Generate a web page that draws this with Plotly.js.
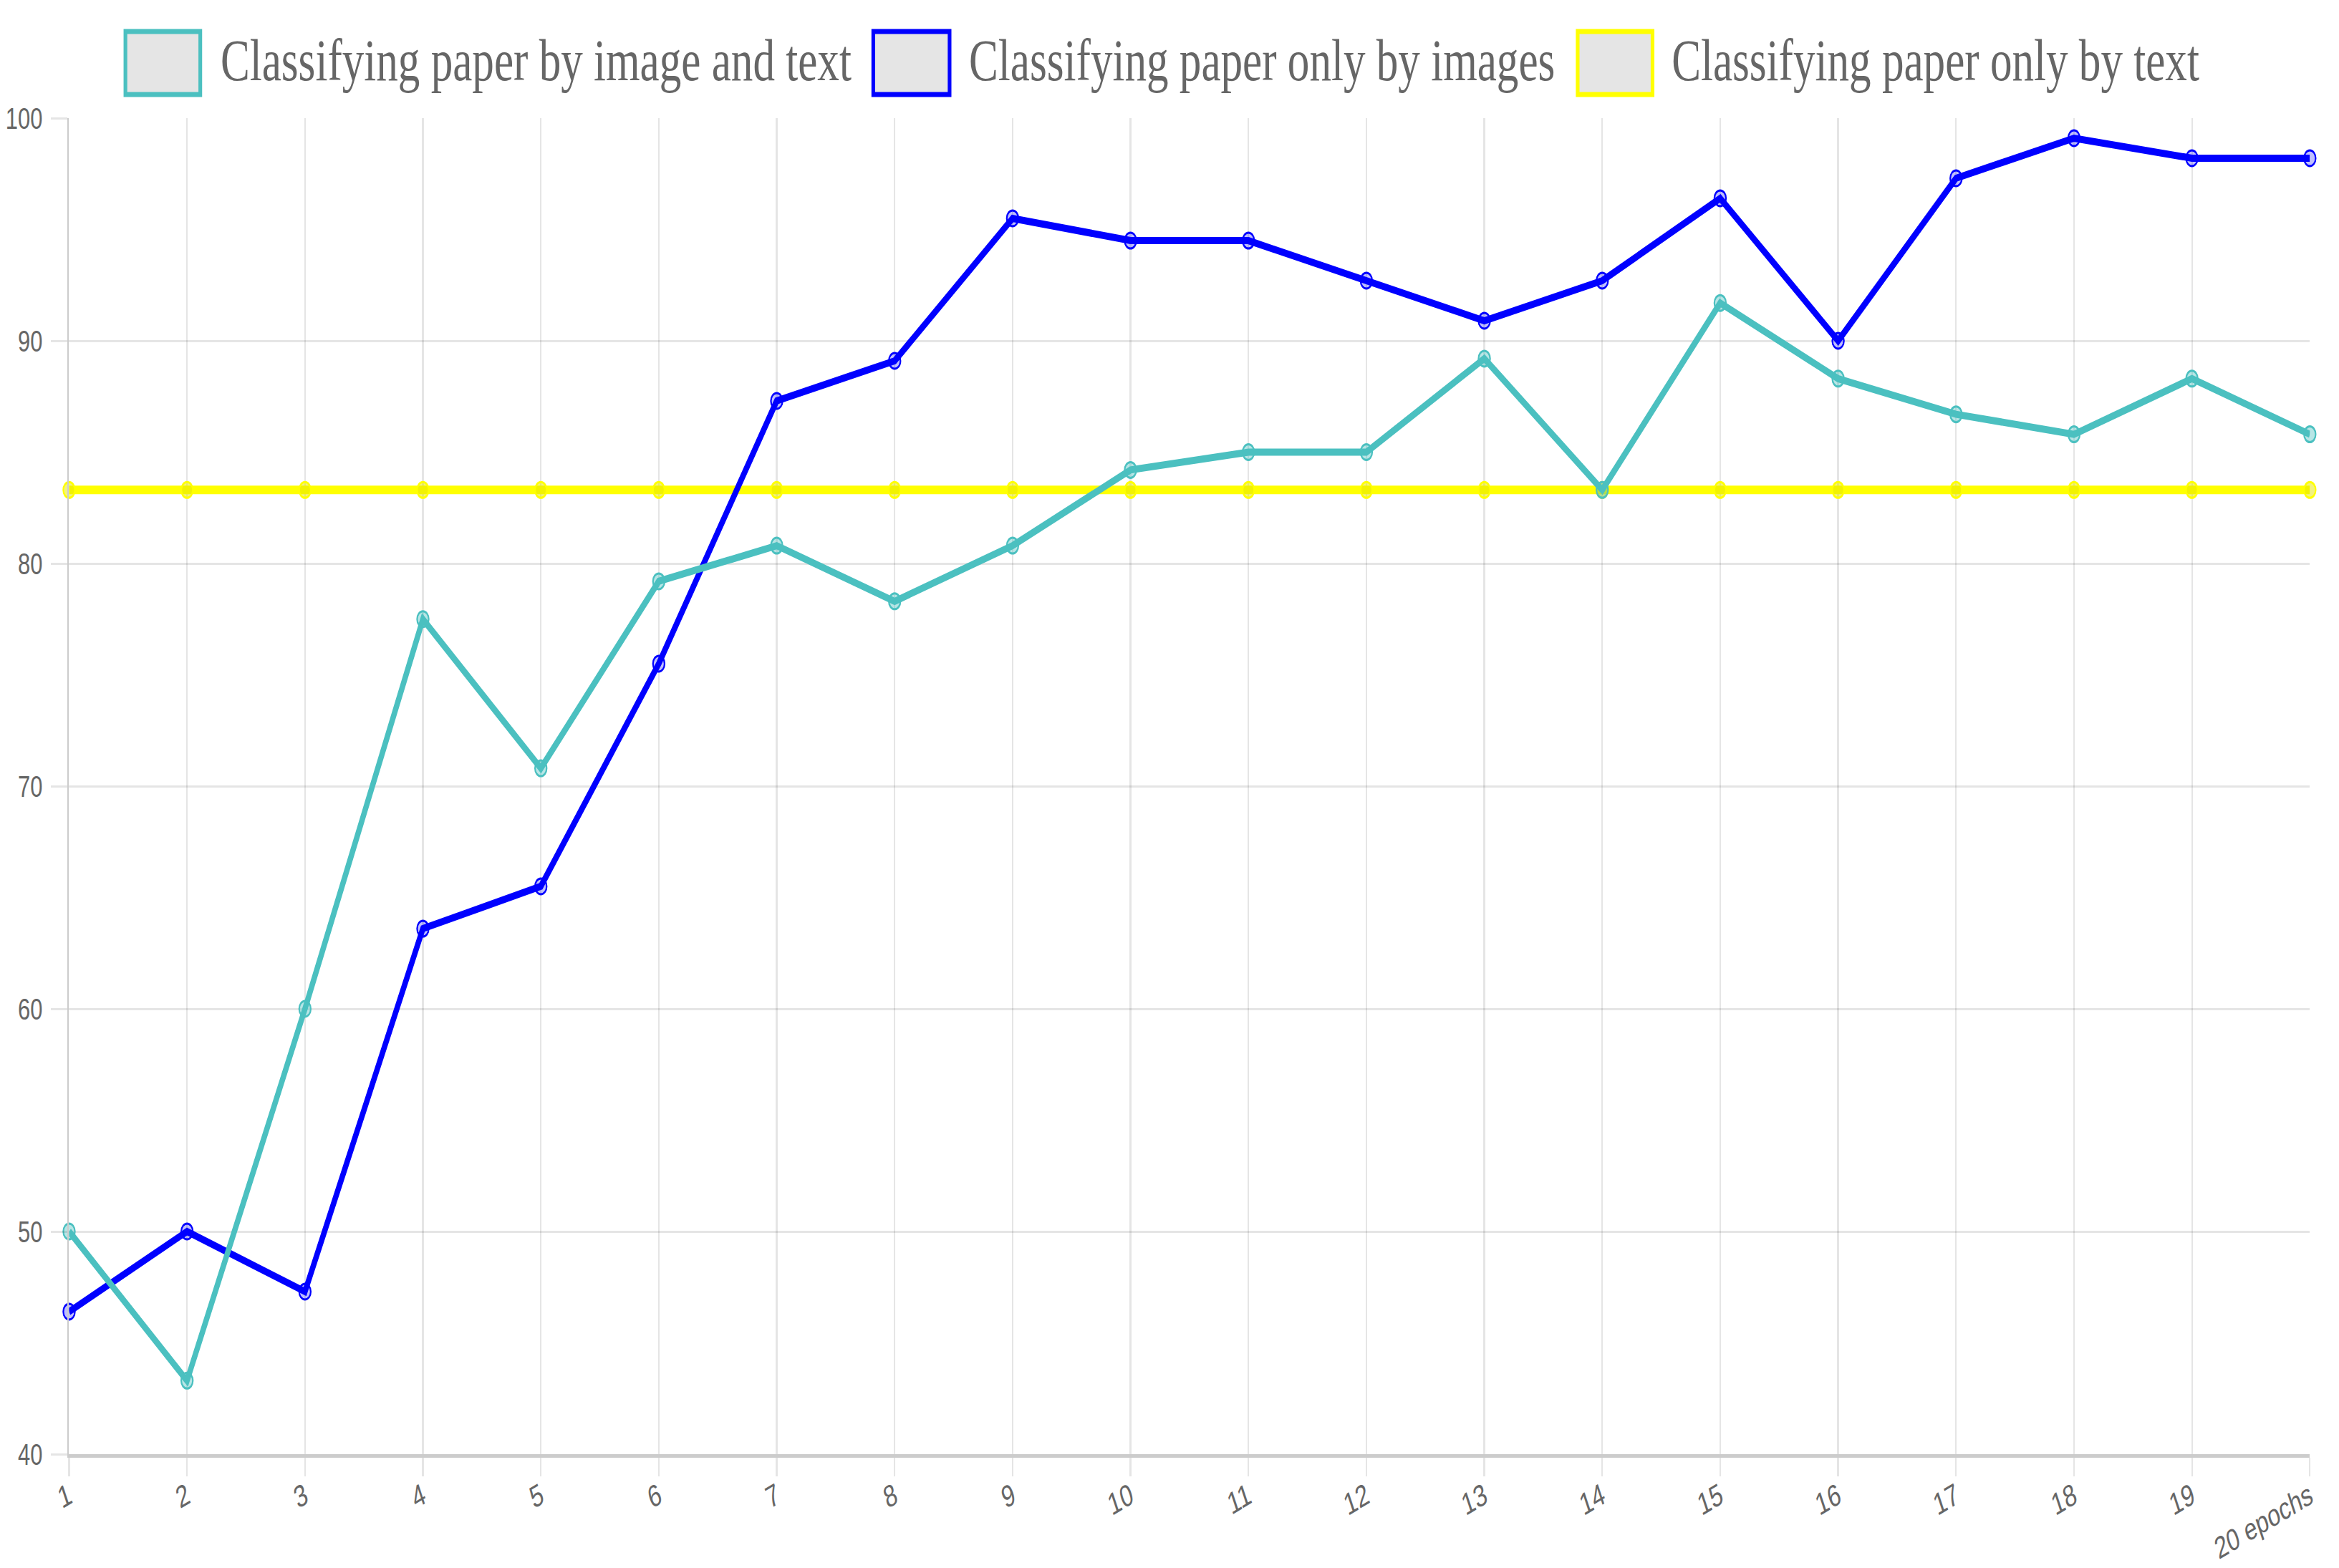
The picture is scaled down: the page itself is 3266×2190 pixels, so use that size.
<!DOCTYPE html>
<html>
<head>
<meta charset="utf-8">
<script src="https://cdn.plot.ly/plotly-3.0.1.min.js"></script>
<style>
  html, body { margin: 0; padding: 0; overflow: hidden; background: #fff; }
  #chart { transform-origin: 0 0; }
</style>
</head>
<body>
<div id="chart"></div>
<script>
// chart data
var epochs = [1, 2, 3, 4, 5, 6, 7, 8, 9, 10, 11, 12, 13, 14, 15, 16, 17, 18, 19, 20]
var epochLabels = ["1", "2", "3", "4", "5", "6", "7", "8", "9", "10",
                   "11", "12", "13", "14", "15", "16", "17", "18", "19", "20 epochs"]
var imageAndText = [50.0, 43.3, 60.0, 77.5, 70.8, 79.2, 80.8, 78.3, 80.8, 84.2,
                    85.0, 85.0, 89.2, 83.3, 91.7, 88.3, 86.7, 85.8, 88.3, 85.8]
var onlyImages = [46.4, 50.0, 47.3, 63.6, 65.5, 75.5, 87.3, 89.1, 95.5, 94.5,
                  94.5, 92.7, 90.9, 92.7, 96.4, 90.0, 97.3, 99.1, 98.2, 98.2]
var onlyText = [83.3, 83.3, 83.3, 83.3, 83.3, 83.3, 83.3, 83.3, 83.3, 83.3,
                83.3, 83.3, 83.3, 83.3, 83.3, 83.3, 83.3, 83.3, 83.3, 83.3]
var seriesNames = ["Classifying paper by image and text",
                   "Classifying paper only by images",
                   "Classifying paper only by text"]
var yTicks = [40, 50, 60, 70, 80, 90, 100]

// the original picture is squeezed sideways, so draw wide and compress
var squeeze = 0.74
var W = 3266, H = 2190
var Wpre = W / squeeze
var m = { l: 97 / squeeze, r: Wpre - 3240 / squeeze, t: 165, b: 159 }

var chartDiv = document.getElementById('chart')
chartDiv.style.width = Wpre + 'px'
chartDiv.style.height = H + 'px'
// small correction measured against the first render
chartDiv.style.transform = 'scaleX(' + (squeeze / 1.0047) + ')'

// pixel (final picture) -> paper coords
function paperX(px) { return (px / squeeze - m.l) / (Wpre - m.l - m.r) }
function paperY(py) { return (H - m.b - py) / (H - m.t - m.b) }

var colors = ["rgb(75,192,192)", "rgb(0,0,255)", "rgb(255,255,0)"]
var fills = ["rgba(75,192,192,0.4)", "rgba(0,0,255,0.25)", "rgba(230,230,0,0.5)"]
var widths = [10, 10, 12]

function lineTrace(y, i) {
    return {
        type: "scatter",
        mode: "lines+markers",
        x: epochs,
        y: y,
        name: seriesNames[i],
        line: { color: colors[i], width: widths[i] },
        marker: {
            symbol: "circle",
            size: 22,
            color: fills[i],
            line: { color: colors[i], width: 3 }
        },
        cliponaxis: false
    }
}

// chart.js draws the first dataset on top
var data = [
    lineTrace(onlyText, 2),
    lineTrace(onlyImages, 1),
    lineTrace(imageAndText, 0)
]

// hand made legend: grey boxes with a coloured border
var boxX = [[176, 281], [1225, 1332], [2213, 2318]]
var textX = [308, 1358, 2343]
var shapes = []
var annotations = []
for (let i = 0; i < 3; i++) {
    shapes.push({
        type: "rect",
        xref: "paper", yref: "paper",
        x0: paperX(boxX[i][0]), x1: paperX(boxX[i][1]),
        y0: paperY(132), y1: paperY(44),
        fillcolor: "#e5e5e5",
        line: { color: colors[i], width: 7 }
    })
    annotations.push({
        xref: "paper", yref: "paper",
        x: paperX(textX[i]), y: paperY(84),
        xanchor: "left", yanchor: "middle",
        text: seriesNames[i],
        showarrow: false,
        font: { family: "Liberation Serif, serif", size: 83, color: "#666" }
    })
}

var layout = {
    width: Wpre,
    height: H,
    margin: m,
    showlegend: false,
    paper_bgcolor: "#fff",
    plot_bgcolor: "#fff",
    font: { family: "Liberation Sans, Arial, sans-serif", color: "#666" },
    xaxis: {
        range: [1, 20],
        tickvals: epochs,
        ticktext: epochLabels,
        tickangle: -24,
        tickfont: { size: 43, color: "#666" },
        showgrid: true,
        gridcolor: "rgba(0,0,0,0.1)",
        gridwidth: 3,
        zeroline: false,
        showline: true,
        linecolor: "#cccccc",
        linewidth: 5,
        ticks: "outside",
        ticklen: 26,
        tickwidth: 3,
        tickcolor: "rgba(0,0,0,0.1)",
        ticklabelstandoff: -14
    },
    yaxis: {
        range: [40, 100],
        tickvals: yTicks,
        tickfont: { size: 42, color: "#666" },
        showgrid: true,
        gridcolor: "rgba(0,0,0,0.1)",
        gridwidth: 3,
        zeroline: false,
        showline: true,
        linecolor: "#cccccc",
        linewidth: 4,
        ticks: "outside",
        ticklen: 30,
        tickwidth: 3,
        tickcolor: "rgba(0,0,0,0.1)",
        ticklabelstandoff: 8
    },
    shapes: shapes,
    annotations: annotations
}

Plotly.newPlot('chart', data, layout, { staticPlot: true, responsive: false })
</script>
</body>
</html>
